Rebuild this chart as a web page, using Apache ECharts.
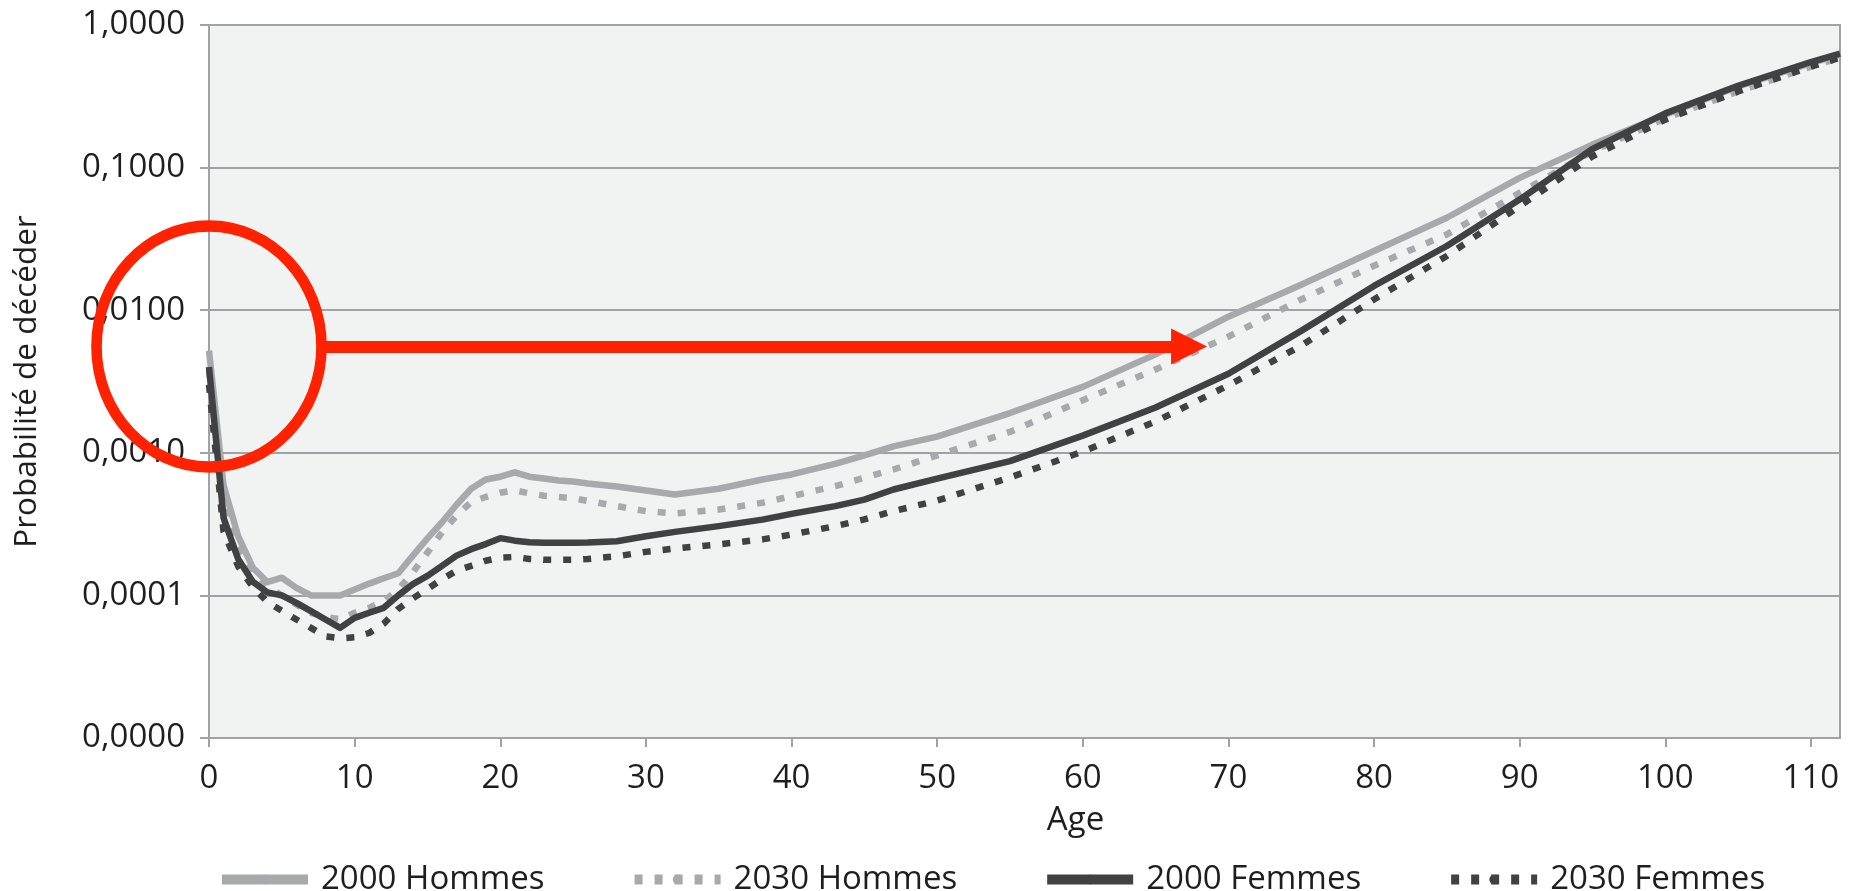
<!DOCTYPE html>
<html>
<head>
<meta charset="utf-8">
<script src="https://cdn.jsdelivr.net/npm/echarts@6/dist/echarts.min.js"></script>
<style>
html,body{margin:0;padding:0;background:#fff;}
#chart{width:1859px;height:891px;}
</style>
</head>
<body>
<div id="chart"></div>
<script>
// ---- data ----
const ages = [0,1,2,3,4,5,6,7,8,9,10,11,12,13,14,15,16,17,18,19,20,21,22,23,24,25,26,28,30,32,35,38,40,43,45,47,50,55,60,65,70,75,80,85,90,95,100,105,110,112];
const hommes2000 = [0.0052,0.00059,0.00026,0.000157,0.000124,0.000133,0.000113,0.0001,0.0001,0.0001,0.00011,0.000121,0.000132,0.000143,0.00019,0.000251,0.000326,0.000432,0.00056,0.00065,0.00068,0.00073,0.00068,0.00066,0.00064,0.00063,0.00061,0.00058,0.000544,0.00051,0.00056,0.00065,0.000705,0.000837,0.00096,0.00111,0.0013,0.0019,0.0029,0.0049,0.009,0.0151,0.026,0.0445,0.0847,0.145,0.235,0.371,0.54,0.62];
const hommes2030 = [0.0038,0.00045,0.00022,0.00015,0.000116,0.0001,0.0000863,0.0000755,0.0000708,0.000068,0.0000755,0.0000818,0.0000912,0.00011,0.000145,0.0002,0.000277,0.000363,0.000451,0.00049,0.000525,0.000545,0.00052,0.0005,0.00049,0.00048,0.00046,0.000423,0.00039,0.000376,0.0004,0.000446,0.000497,0.000583,0.000668,0.000764,0.00096,0.0014,0.00234,0.00384,0.00653,0.0119,0.0205,0.034,0.0665,0.13,0.222,0.342,0.511,0.59];
const femmes2000 = [0.0040,0.00035,0.00018,0.000125,0.000105,0.0001,0.0000887,0.0000776,0.0000678,0.0000592,0.0000695,0.0000755,0.0000818,0.0001,0.00012,0.000137,0.000161,0.00019,0.000211,0.000229,0.000252,0.000242,0.000236,0.000234,0.000234,0.000234,0.000235,0.00024,0.00026,0.000279,0.000306,0.00034,0.000373,0.000423,0.00047,0.000553,0.00066,0.000875,0.00132,0.00208,0.00358,0.00716,0.0148,0.0282,0.0597,0.135,0.24,0.375,0.55,0.63];
const femmes2030 = [0.0030,0.00028,0.00016,0.000115,0.00009,0.000078,0.0000678,0.0000592,0.0000516,0.00005,0.0000508,0.0000545,0.0000634,0.0000805,0.0000953,0.000111,0.00013,0.000149,0.000161,0.000175,0.000184,0.000186,0.00018,0.000178,0.000178,0.000178,0.00018,0.000188,0.000202,0.000213,0.000228,0.000247,0.000267,0.000306,0.000341,0.00039,0.000462,0.000671,0.00102,0.00166,0.00297,0.00564,0.0119,0.024,0.0537,0.12,0.217,0.342,0.51,0.59];
const seriesNames = ['2000 Hommes','2030 Hommes','2000 Femmes','2030 Femmes'];
const xTicks = [0,10,20,30,40,50,60,70,80,90,100,110];
const xTickLabels = ['0','10','20','30','40','50','60','70','80','90','100','110'];
const yTicks = [0.00001,0.0001,0.001,0.01,0.1,1];
const yTickLabels = ['0,0000','0,0001','0,0010','0,0100','0,1000','1,0000'];
const xAxisName = 'Age';
const yAxisName = 'Probabilité de décéder';
// annotation (data coordinates)
const circleCenter = [0, 0.00556];
const arrowStart = [7.8, 0.00556];
const arrowEnd = [67.3, 0.00556];

// ---- chart ----
const FONT = 'Open Sans';
const TXT = '#1e1e1e';
const GRIDC = '#a0a2a5';
const LIGHT = '#a7a9ac';
const DARK = '#414042';
const RED = '#ff2200';

function pairs(vals){ return ages.map((a,i)=>[a, vals[i]]); }

const styles = [
  {color: LIGHT, type: 'solid'},
  {color: LIGHT, type: [8,12]},
  {color: DARK, type: 'solid'},
  {color: DARK, type: [8,12]}
];
const allVals = [hommes2000, hommes2030, femmes2000, femmes2030];

const lineSeries = seriesNames.map((n,i)=>({
  name: n,
  type: 'line',
  data: pairs(allVals[i]),
  symbol: 'none',
  showSymbol: false,
  silent: true,
  lineStyle: {color: styles[i].color, width: 6.5, type: styles[i].type, cap: 'butt', join: 'round'},
  itemStyle: {color: styles[i].color},
  z: 2 + i
}));

const ellipsePath = 'path://M0,50 C0,22.4 22.4,0 50,0 C77.6,0 100,22.4 100,50 C100,77.6 77.6,100 50,100 C22.4,100 0,77.6 0,50 Z';

const chart = echarts.init(document.getElementById('chart'), null, {renderer: 'canvas'});
chart.setOption({
  animation: false,
  backgroundColor: '#ffffff',
  textStyle: {fontFamily: FONT, color: TXT},
  grid: {
    left: 209, right: 19, top: 25, bottom: 153,
    show: true, backgroundColor: '#f1f2f2', borderColor: GRIDC, borderWidth: 2,
    containLabel: false, outerBoundsMode: 'none'
  },
  legend: {
    data: seriesNames,
    left: 212, top: 858,
    itemWidth: 86, itemHeight: 12, itemGap: 85,
    textStyle: {fontFamily: FONT, fontSize: 33, color: TXT, padding: [0,0,0,8]},
    lineStyle: {width: 10},
    selectedMode: false
  },
  xAxis: {
    type: 'value', min: 0, max: 112, interval: 10,
    name: xAxisName, nameLocation: 'middle', nameGap: 66,
    nameTextStyle: {fontFamily: FONT, fontSize: 33, color: TXT, padding: [0,0,0,102]},
    axisLine: {show: true, onZero: false, lineStyle: {color: GRIDC, width: 2}},
    axisTick: {show: true, length: 9, customValues: xTicks, lineStyle: {color: GRIDC, width: 2}},
    axisLabel: {
      margin: 24, fontFamily: FONT, fontSize: 33, color: TXT,
      customValues: xTicks,
      formatter: v => { const i = xTicks.indexOf(Math.round(v)); return i >= 0 ? xTickLabels[i] : ''; }
    },
    splitLine: {show: false}
  },
  yAxis: {
    type: 'log', logBase: 10, min: 0.00001, max: 1,
    name: yAxisName, nameLocation: 'middle', nameGap: 166,
    nameTextStyle: {fontFamily: FONT, fontSize: 31.5, color: TXT},
    axisLine: {show: true, lineStyle: {color: GRIDC, width: 2}},
    axisTick: {show: true, length: 9, lineStyle: {color: GRIDC, width: 2}},
    axisLabel: {
      margin: 24, fontFamily: FONT, fontSize: 33, color: TXT,
      formatter: v => {
        let best = 0, bd = Infinity;
        yTicks.forEach((t,i)=>{ const d = Math.abs(Math.log10(t) - Math.log10(v)); if (d < bd){bd = d; best = i;} });
        return bd < 0.01 ? yTickLabels[best] : '';
      }
    },
    splitLine: {show: true, lineStyle: {color: GRIDC, width: 2}}
  },
  series: lineSeries.concat([{
    name: 'annotation',
    type: 'scatter',
    data: [circleCenter],
    symbol: ellipsePath,
    symbolSize: [225, 241],
    clip: false,
    silent: true,
    z: 10,
    itemStyle: {color: 'rgba(0,0,0,0)', borderColor: RED, borderWidth: 11, opacity: 1},
    emphasis: {disabled: true},
    markLine: {
      silent: true,
      symbol: ['none', 'triangle'],
      symbolSize: 36,
      label: {show: false},
      emphasis: {disabled: true},
      lineStyle: {color: RED, width: 12, type: 'solid', opacity: 1},
      data: [[{coord: arrowStart}, {coord: arrowEnd}]]
    }
  }])
});
</script>
</body>
</html>
